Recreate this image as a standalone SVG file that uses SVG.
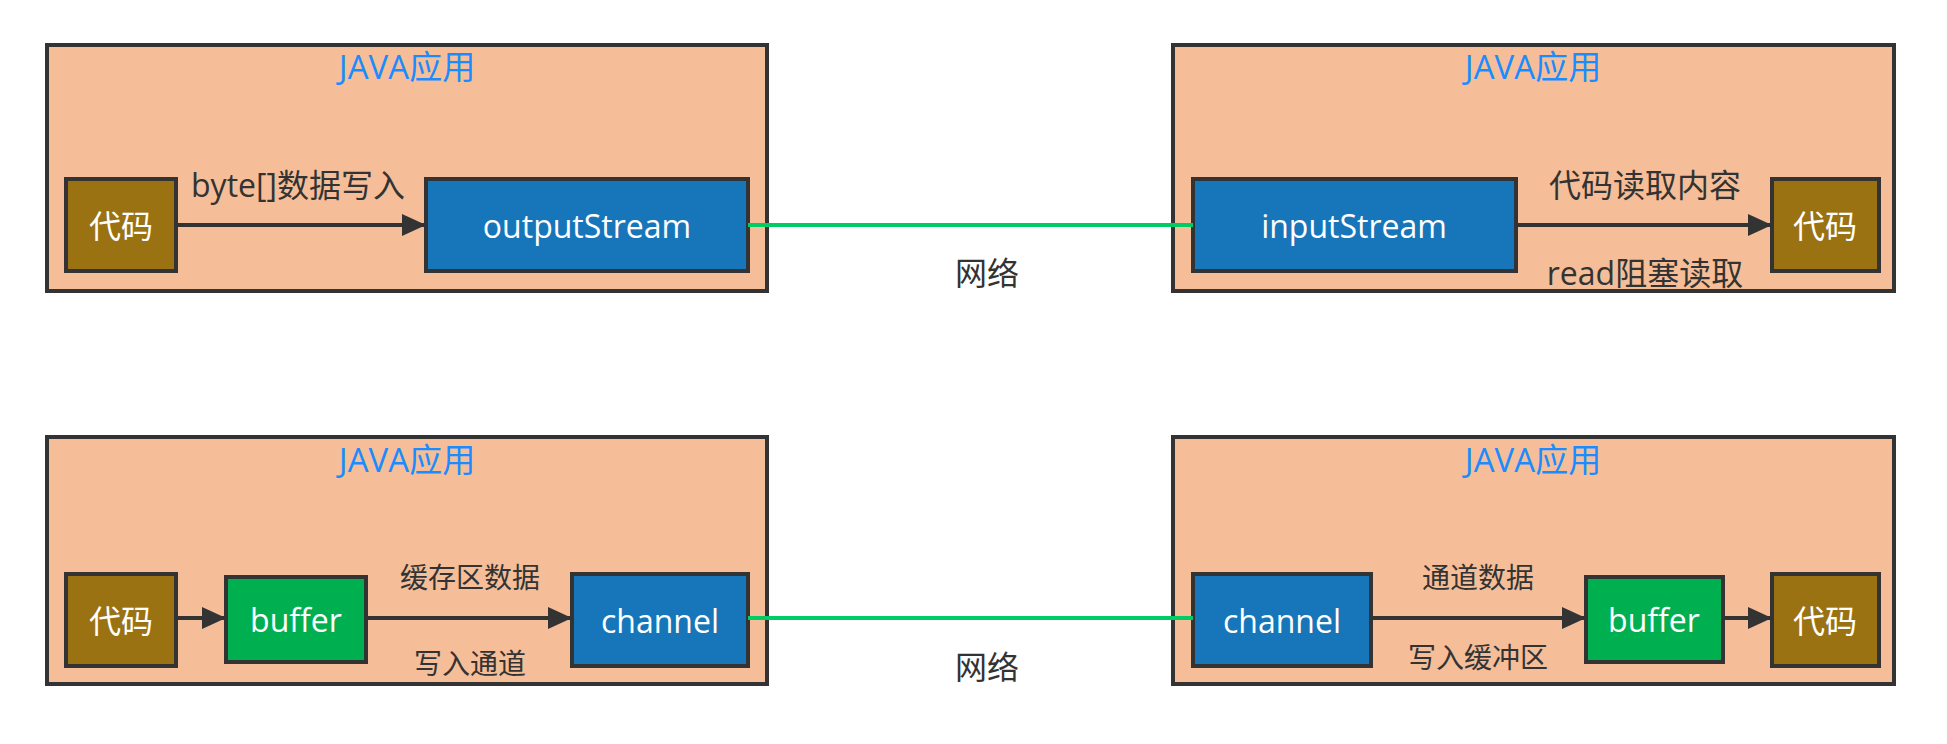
<svg xmlns="http://www.w3.org/2000/svg" width="1947" height="744" viewBox="0 0 1947 744">
<defs>
<style>
.app{fill:#F5BE98;stroke:#333;stroke-width:4}
.code{fill:#9A7211;stroke:#333;stroke-width:4}
.blue{fill:#1776BA;stroke:#333;stroke-width:4}
.green{fill:#00B050;stroke:#333;stroke-width:4}
text{font-family:"Open Sans","Noto Sans CJK SC",sans-serif;dominant-baseline:central;text-anchor:middle}
.title{font-size:33px;fill:#1A8CFF}
.node{font-size:32px;fill:#fff}
.lbl{font-size:32px;fill:#333}
.slbl{font-size:28px;fill:#333}
.arrow{stroke:#333;stroke-width:4;fill:none;marker-end:url(#ah)}
.net{stroke:#00CC66;stroke-width:4;fill:none}
</style>
<marker id="ah" markerWidth="24" markerHeight="22" refX="24" refY="11" orient="auto" markerUnits="userSpaceOnUse">
<path d="M0,0 L24,11 L0,22 Z" fill="#333"/>
</marker>
</defs>
<rect width="1947" height="744" fill="#fff"/>

<g id="app-tl"><rect class="app" x="47" y="45" width="720" height="246"/><text class="title" x="407" y="66">JAVA应用</text></g>
<g id="app-tr"><rect class="app" x="1173" y="45" width="721" height="246"/><text class="title" x="1533" y="66">JAVA应用</text></g>
<g id="app-bl"><rect class="app" x="47" y="437" width="720" height="247"/><text class="title" x="407" y="459">JAVA应用</text></g>
<g id="app-br"><rect class="app" x="1173" y="437" width="721" height="247"/><text class="title" x="1533" y="459">JAVA应用</text></g>

<g id="code-tl"><rect class="code" x="66" y="179" width="110" height="92"/><text class="node" x="121" y="225">代码</text></g>
<g id="outputStream"><rect class="blue" x="426" y="179" width="322" height="92"/><text class="node" x="587" y="225">outputStream</text></g>
<g id="inputStream"><rect class="blue" x="1193" y="179" width="323" height="92"/><text class="node" x="1354" y="225">inputStream</text></g>
<g id="code-tr"><rect class="code" x="1772" y="179" width="107" height="92"/><text class="node" x="1825" y="225">代码</text></g>

<g id="code-bl"><rect class="code" x="66" y="574" width="110" height="92"/><text class="node" x="121" y="620">代码</text></g>
<g id="buffer-bl"><rect class="green" x="226" y="577" width="140" height="85"/><text class="node" x="296" y="619">buffer</text></g>
<g id="channel-bl"><rect class="blue" x="572" y="574" width="176" height="92"/><text class="node" x="660" y="620">channel</text></g>
<g id="channel-br"><rect class="blue" x="1193" y="574" width="178" height="92"/><text class="node" x="1282" y="620">channel</text></g>
<g id="buffer-br"><rect class="green" x="1586" y="577" width="137" height="85"/><text class="node" x="1654" y="619">buffer</text></g>
<g id="code-br"><rect class="code" x="1772" y="574" width="107" height="92"/><text class="node" x="1825" y="620">代码</text></g>

<g id="connectors">
<line class="arrow" x1="176" y1="225" x2="426" y2="225"/>
<line class="arrow" x1="1516" y1="225" x2="1772" y2="225"/>
<line class="net" x1="748" y1="225" x2="1193" y2="225"/>
<line class="arrow" x1="176" y1="618" x2="226" y2="618"/>
<line class="arrow" x1="366" y1="618" x2="572" y2="618"/>
<line class="net" x1="748" y1="618" x2="1193" y2="618"/>
<line class="arrow" x1="1371" y1="618" x2="1586" y2="618"/>
<line class="arrow" x1="1723" y1="618" x2="1772" y2="618"/>
<text class="lbl" x="298" y="184">byte[]数据写入</text>
<text class="lbl" x="1645" y="184">代码读取内容</text>
<text class="lbl" x="1645" y="272">read阻塞读取</text>
<text class="lbl" x="987" y="272">网络</text>
<text class="slbl" x="470" y="577">缓存区数据</text>
<text class="slbl" x="470" y="663">写入通道</text>
<text class="lbl" x="987" y="666">网络</text>
<text class="slbl" x="1478" y="577">通道数据</text>
<text class="slbl" x="1478" y="657">写入缓冲区</text>
</g>
</svg>
